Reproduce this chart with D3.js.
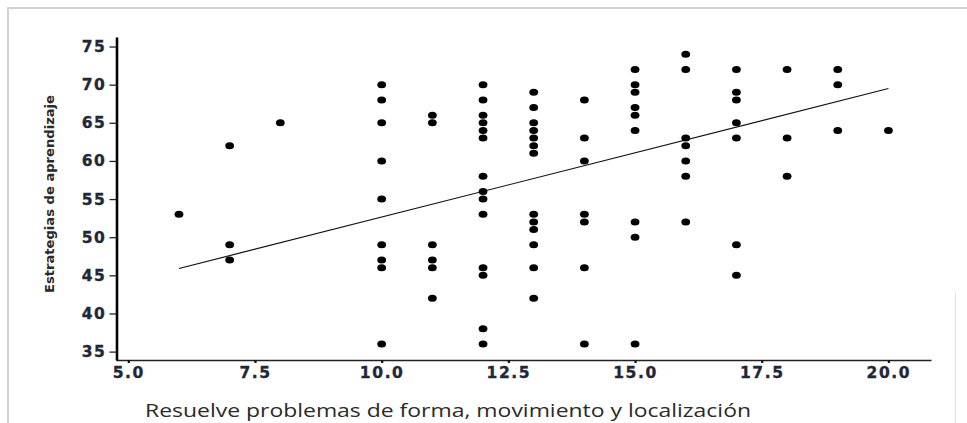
<!DOCTYPE html>
<html>
<head>
<meta charset="utf-8">
<script src="https://cdn.jsdelivr.net/npm/d3@7"></script>
<style>
  html, body { margin: 0; padding: 0; background: #fff; }
  svg { display: block; }
</style>
</head>
<body>
<svg id="chart" width="967" height="423"></svg>
<script>
// ---- data ----
const xValues = [
  6,
  7, 7, 7,
  8,
  10, 10, 10, 10, 10, 10, 10, 10, 10,
  11, 11, 11, 11, 11, 11,
  12, 12, 12, 12, 12, 12, 12, 12, 12, 12, 12, 12, 12, 12,
  13, 13, 13, 13, 13, 13, 13, 13, 13, 13, 13, 13, 13,
  14, 14, 14, 14, 14, 14, 14,
  15, 15, 15, 15, 15, 15, 15, 15, 15,
  16, 16, 16, 16, 16, 16, 16,
  17, 17, 17, 17, 17, 17, 17,
  18, 18, 18,
  19, 19, 19,
  20
];
const yValues = [
  53,
  62, 49, 47,
  65,
  70, 68, 65, 60, 55, 49, 47, 46, 36,
  66, 65, 49, 47, 46, 42,
  70, 68, 66, 65, 64, 63, 58, 56, 55, 53, 46, 45, 38, 36,
  69, 67, 65, 64, 63, 62, 61, 53, 52, 51, 49, 46, 42,
  68, 63, 60, 53, 52, 46, 36,
  72, 70, 69, 67, 66, 64, 52, 50, 36,
  74, 72, 63, 62, 60, 58, 52,
  72, 69, 68, 65, 63, 49, 45,
  72, 63, 58,
  72, 70, 64,
  64
];
// fitted line end points
const fitX = [6, 20];
const fitY = [45.9, 69.5];

const xTicks = [5.0, 7.5, 10.0, 12.5, 15.0, 17.5, 20.0];
const yTicks = [35, 40, 45, 50, 55, 60, 65, 70, 75];
const xTitle = "Resuelve problemas de forma, movimiento y localización";
const yTitle = "Estrategias de aprendizaje";

// ---- drawing ----
const svg = d3.select("#chart");

// light frame
svg.append("line").attr("x1", 7).attr("x2", 967).attr("y1", 8).attr("y2", 8)
  .attr("stroke", "#d2d2d2").attr("stroke-width", 2);
svg.append("line").attr("x1", 8).attr("x2", 8).attr("y1", 7).attr("y2", 423)
  .attr("stroke", "#d2d2d2").attr("stroke-width", 2);
svg.append("line").attr("x1", 955.5).attr("x2", 955.5).attr("y1", 292).attr("y2", 423)
  .attr("stroke", "#e2e2e2").attr("stroke-width", 1);

const x = d3.scaleLinear().domain([4.757, 20.84]).range([116, 931]);
const y = d3.scaleLinear().domain([33.9, 76.25]).range([360, 37]);

const labelColor = "#1f2838";

// x axis
const gx = svg.append("g").attr("transform", "translate(0,360)")
  .call(d3.axisBottom(x).tickValues(xTicks).tickFormat(d3.format(".1f"))
    .tickSize(3).tickSizeOuter(0).tickPadding(4.4));
gx.select(".domain").attr("stroke", "#222").attr("stroke-width", 1.6);
gx.selectAll(".tick line").attr("stroke", "#111").attr("stroke-width", 2.2);
gx.selectAll(".tick text")
  .attr("font-family", "DejaVu Sans")
  .attr("font-weight", "bold")
  .attr("font-size", 15.5)
  .attr("letter-spacing", "1.6px")
  .attr("stroke", labelColor)
  .attr("stroke-width", 0.35)
  .attr("fill", labelColor);

// y axis
const gy = svg.append("g").attr("transform", "translate(116.5,0)")
  .call(d3.axisLeft(y).tickValues(yTicks).tickFormat(d3.format("d"))
    .tickSize(7).tickSizeOuter(0).tickPadding(3));
gy.select(".domain").attr("stroke", "#000").attr("stroke-width", 2.6);
gy.selectAll(".tick line").attr("stroke", "#222").attr("stroke-width", 1.3);
gy.selectAll(".tick text")
  .attr("font-family", "DejaVu Sans")
  .attr("font-weight", "bold")
  .attr("font-size", 15.5)
  .attr("letter-spacing", "1.6px")
  .attr("stroke", labelColor)
  .attr("stroke-width", 0.35)
  .attr("fill", labelColor);

// fit line
const lineGen = d3.line().x(d => x(d[0])).y(d => y(d[1]));
svg.append("path")
  .datum(d3.zip(fitX, fitY))
  .attr("d", lineGen)
  .attr("fill", "none")
  .attr("stroke", "#111")
  .attr("stroke-width", 1.2);

// points
svg.append("g").selectAll("ellipse")
  .data(d3.zip(xValues, yValues))
  .join("ellipse")
  .attr("cx", d => x(d[0]))
  .attr("cy", d => y(d[1]))
  .attr("rx", 4.4)
  .attr("ry", 3.5)
  .attr("fill", "#000");

// titles
svg.append("text")
  .attr("x", 145).attr("y", 417)
  .attr("font-family", "Open Sans")
  .attr("font-size", 19)
  .attr("fill", "#2a2a2a")
  .attr("textLength", 606)
  .attr("lengthAdjust", "spacingAndGlyphs")
  .text(xTitle);

svg.append("text")
  .attr("transform", "translate(54,194) rotate(-90)")
  .attr("text-anchor", "middle")
  .attr("font-family", "DejaVu Sans")
  .attr("font-weight", "bold")
  .attr("font-size", 12.5)
  .attr("fill", "#2a2a2a")
  .attr("textLength", 198)
  .attr("lengthAdjust", "spacingAndGlyphs")
  .text(yTitle);
</script>
</body>
</html>
